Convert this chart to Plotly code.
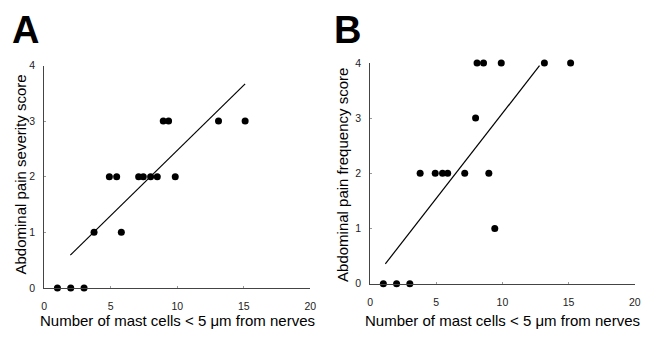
import plotly.graph_objects as go

# Panel A: severity
xa = [1, 2, 3, 3.75, 4.9, 5.45, 5.8, 7.1, 7.45, 8.0, 8.5, 8.95, 9.35, 9.85, 13.1, 15.1]
ya = [0, 0, 0, 1, 2, 2, 1, 2, 2, 2, 2, 3, 3, 2, 3, 3]
fit_a_x = [1.97, 15.1]
fit_a_y = [0.59, 3.67]

# Panel B: frequency
xb = [1, 2, 3, 3.78, 4.92, 5.47, 5.86, 7.15, 7.97, 8.08, 8.57, 8.97, 9.42, 9.91, 13.17, 15.15]
yb = [0, 0, 0, 2, 2, 2, 2, 2, 3, 4, 4, 2, 1, 4, 4, 4]
fit_b_x = [1.15, 12.8]
fit_b_y = [0.36, 3.95]

x_ticks = [0, 5, 10, 15, 20]
y_ticks = [0, 1, 2, 3, 4]
x_title = "Number of mast cells < 5 \u03bcm from nerves"
ya_title = "Abdominal pain severity score"
yb_title = "Abdominal pain frequency score"

W, H = 647, 337
fnt = "Liberation Sans, Arial, sans-serif"

fig = go.Figure()
fig.add_trace(go.Scatter(x=fit_a_x, y=fit_a_y, mode="lines", line=dict(color="black", width=1.2),
                         xaxis="x", yaxis="y", showlegend=False))
fig.add_trace(go.Scatter(x=xa, y=ya, mode="markers", marker=dict(color="black", size=7),
                         xaxis="x", yaxis="y", showlegend=False, cliponaxis=False))
fig.add_trace(go.Scatter(x=fit_b_x, y=fit_b_y, mode="lines", line=dict(color="black", width=1.2),
                         xaxis="x2", yaxis="y2", showlegend=False))
fig.add_trace(go.Scatter(x=xb, y=yb, mode="markers", marker=dict(color="black", size=7),
                         xaxis="x2", yaxis="y2", showlegend=False, cliponaxis=False))

def xax(dom, anchor):
    return dict(domain=dom, range=[0, 20], tickvals=x_ticks, ticks="inside", ticklen=2,
                tickcolor="#999", showline=True, linecolor="#444", linewidth=1,
                showgrid=False, zeroline=False, anchor=anchor,
                tickfont=dict(family=fnt, size=10.5, color="#222"), ticklabelstandoff=9)

def yax(dom, anchor):
    return dict(domain=dom, range=[0, 4], tickvals=y_ticks, ticks="inside", ticklen=2,
                tickcolor="#999", showline=True, linecolor="#444", linewidth=1,
                showgrid=False, zeroline=False, anchor=anchor,
                tickfont=dict(family=fnt, size=10.5, color="#222"), ticklabelstandoff=6)

fig.update_layout(
    width=W, height=H, margin=dict(l=0, r=0, t=0, b=0),
    paper_bgcolor="white", plot_bgcolor="white",
    xaxis=xax([41.7 / W, 311.7 / W], "y"),
    yaxis=yax([(H - 292.3) / H, (H - 61.7) / H], "x"),
    xaxis2=xax([372.3 / W, 640.7 / W], "y2"),
    yaxis2=yax([(H - 288) / H, (H - 59) / H], "x2"),
)

def ann(text, x, y, size=15, bold=False, angle=0):
    fig.add_annotation(text=("<b>%s</b>" % text) if bold else text, x=x / W, y=1 - y / H,
                       xref="paper", yref="paper", showarrow=False, textangle=angle,
                       xanchor="center", yanchor="middle",
                       font=dict(family=fnt, size=size, color="black"))

ann(x_title, 177, 326)
ann(x_title, 507, 326)
ann(ya_title, 18, 175, angle=-90)
ann(yb_title, 345, 175, angle=-90)
ann("A", 22.5, 25, size=38, bold=True)
ann("B", 349, 25, size=38, bold=True)

fig.write_html("out.html")
